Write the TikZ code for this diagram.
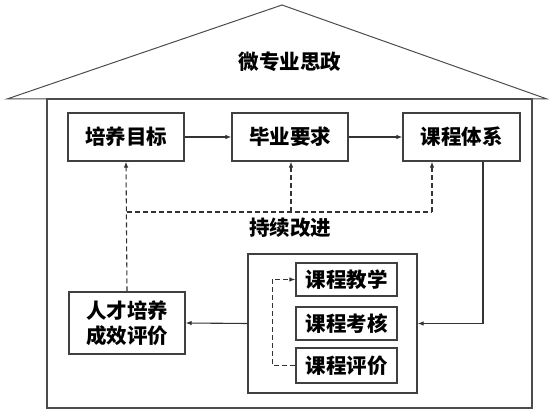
\documentclass[tikz,border=0pt]{standalone}
\usepackage{fontspec}
\newfontfamily\cjk{Noto Sans CJK SC}
\usetikzlibrary{arrows.meta}
\begin{document}
\begin{tikzpicture}[x=1pt,y=-1pt,
  line/.style={draw=black!80,line width=1.1pt},
  box/.style={draw=black!75,line width=1.2pt,rectangle,inner sep=0pt,align=center,font=\cjk\bfseries\fontsize{20.5}{25}\selectfont},
  lbl/.style={inner sep=0pt,font=\cjk\bfseries\fontsize{20.5}{25}\selectfont},
  arr/.style={line,-{Latex[length=6pt,width=4.5pt]}},
  dsh/.style={line,dash pattern=on 5pt off 3pt}]
\useasboundingbox (0,0) rectangle (549,411);
% house
\draw[draw=black!70,line width=1pt,line join=miter] (7,99) -- (282,5) -- (547,99) -- cycle;
\draw[draw=black!70,line width=1.2pt] (47,99) rectangle (532,408);
\node[lbl] (title) at (290,62) {微专业思政};
% top row
\node[box,minimum width=116pt,minimum height=48pt] (b1) at (126,137) {培养目标};
\node[box,minimum width=116pt,minimum height=48pt] (b2) at (290,137) {毕业要求};
\node[box,minimum width=117pt,minimum height=48pt] (b3) at (461.5,137) {课程体系};
\node[lbl] (kc) at (290,228) {持续改进};
% bottom
\node[box,minimum width=116pt,minimum height=62pt] (b4) at (127,323) {人才培养\\成效评价};
\node[draw=black!75,line width=1.2pt,rectangle,minimum width=169pt,minimum height=139pt,inner sep=0pt] (big) at (332.5,323.5) {};
\node[box,minimum width=101pt,minimum height=33pt] (c1) at (346.5,279.5) {课程教学};
\node[box,minimum width=101pt,minimum height=33pt] (c2) at (346.5,323.5) {课程考核};
\node[box,minimum width=101pt,minimum height=35pt] (c3) at (346.5,365.5) {课程评价};
% connectors
\draw[arr] (b1.east) -- (b2.west);
\draw[arr] (b2.east) -- (b3.west);
\coordinate (j1) at (127,212);
\coordinate (j2) at (291,212);
\coordinate (j3) at (432,212);
\coordinate (k) at (483,323.5);
\draw[dsh,-{Latex[length=6pt,width=4.5pt]}] (b4.north) -- (b1.south);
\draw[dsh] (j1) -- (j3);
\draw[dsh,-{Latex[length=6pt,width=4.5pt]}] (j2) -- (j2 |- b2.south);
\draw[dsh,-{Latex[length=6pt,width=4.5pt]}] (j3) -- (j3 |- b3.south);
\draw[arr] (k |- b3.south) |- (big.east);
\draw[arr] (big.west) -- (b4.east);
\draw[dsh,-{Latex[length=6pt,width=4.5pt]}] (c3.west) -- ++(-23,0) |- (c1.west);
\end{tikzpicture}
\end{document}
